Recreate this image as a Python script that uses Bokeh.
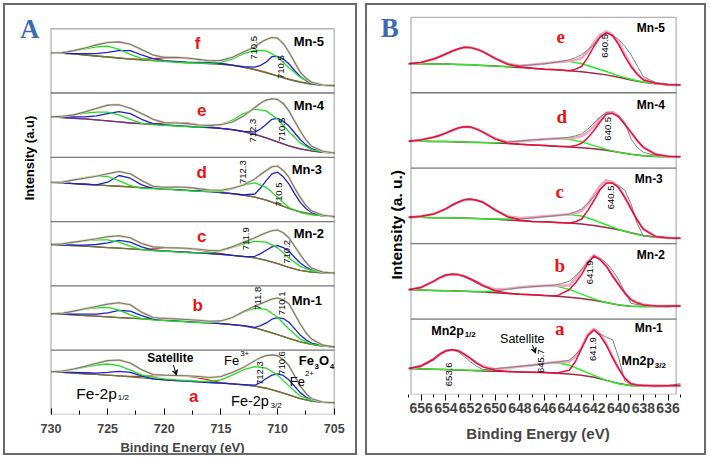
import math
from bokeh.plotting import figure
from bokeh.models import Range1d, FixedTicker, Label, Arrow, VeeHead, BoxAnnotation
from bokeh.layouts import row
from bokeh.embed import file_html
from bokeh.resources import INLINE

# ---------------- Panel A : Fe 2p ----------------
A_ev = [730, 729, 728, 727, 726, 725, 724, 723, 722, 721, 720, 719, 718,
        717, 716, 715, 714, 713, 712, 711, 710, 709, 708, 707, 706, 705]
# denser sampling (around the 710 eV peaks) for envelope and Fe2+ curves
A_ev_fine = [730, 729, 728, 727, 726, 725, 724, 723, 722, 721, 720, 719, 718,
             717, 716, 715, 714, 713, 712, 711.5, 711, 710.5, 710, 709.5, 709,
             708.5, 708, 707.5, 707, 706, 705]
A_samples = ["a", "b", "c", "d", "e", "f"]

A_f_bg = [119,118,116,113,110,107,104,101,98,96,94,92,90,89,87,85,82,76,69,60,50,40,32,26,23,22]
A_f_green = [119,120,125,131,137,139,130,115,102,96,94,92,90,89,88,91,101,117,127,125,107,75,47,30,24,22]
A_f_red = [119,118,116,113,110,107,104,101,100,102,104,105,103,99,94,89,83,77,70,61,51,41,33,27,23,22]
A_f_blue = [119,119,117,117,117,121,126,126,113,102,96,94,92,91,90,87,83,78,77,82,92,108,109,101,87,67,49,37,29,23,22]
A_f_env = [119,120,126,134,143,150,152,145,129,113,106,106,104,100,96,97,106,122,137,150,159,165,163,147,122,92,62,44,32,24,22]

A_e_bg = [120,118,116,114,111,108,105,102,100,98,96,94,92,90,88,86,82,76,68,58,46,34,25,19,15,13]
A_e_green = [120,122,126,131,134,134,126,113,101,97,95,93,91,90,92,98,110,130,143,138,113,76,43,23,16,13]
A_e_red = [120,118,116,114,111,108,105,102,100,99,102,104,102,97,91,86,82,76,68,58,46,34,25,19,15,13]
A_e_blue = [120,120,120,120,123,130,136,130,113,100,96,94,92,90,88,86,82,77,75,84,98,113,116,107,93,73,53,37,26,16,13]
A_e_env = [120,122,126,135,145,155,156,146,130,113,103,102,100,96,95,97,105,123,148,161,170,174,172,160,138,108,78,52,33,18,13]

A_d_bg = [117,115,113,111,109,107,105,103,101,99,97,95,93,91,89,86,83,79,73,64,52,39,29,22,17,15]
A_d_green = [117,119,125,131,136,134,122,107,99,98,96,94,92,90,89,89,97,109,115,102,72,42,27,20,17,15]
A_d_red = [117,115,113,111,109,107,105,103,101,100,102,103,101,97,91,86,83,79,73,64,52,39,29,22,17,15]
A_d_blue = [117,115,113,111,109,117,137,129,109,99,97,95,93,91,89,86,83,79,82,100,122,142,147,133,112,83,57,39,27,18,15]
A_d_env = [117,117,124,129,135,142,149,142,122,105,102,103,102,98,94,93,99,109,127,140,152,163,165,152,132,100,72,48,32,19,15]

A_c_bg = [123,121,120,118,116,114,112,110,108,106,104,102,100,98,96,94,91,88,83,76,66,55,46,41,39,38]
A_c_green = [123,125,129,134,137,137,130,118,108,105,103,101,99,98,99,104,114,125,132,130,113,83,58,45,40,38]
A_c_red = [123,121,120,118,116,114,112,110,108,110,112,113,111,107,101,96,91,88,83,76,66,55,46,41,39,38]
A_c_blue = [123,122,121,121,123,128,135,130,116,106,104,102,100,98,96,94,91,87,88,96,106,116,120,114,103,85,68,56,48,40,38]
A_c_env = [123,125,130,135,140,146,149,143,126,116,114,113,112,109,105,106,116,130,143,151,158,164,166,158,143,118,93,70,53,41,38]

A_b_bg = [108,107,105,103,101,99,97,95,93,91,89,87,85,83,81,79,76,72,66,57,46,35,25,17,12,10]
A_b_green = [108,111,116,122,126,127,119,105,94,90,88,86,84,82,82,86,97,113,125,121,98,63,33,18,12,10]
A_b_red = [108,107,105,103,101,99,97,95,94,94,95,94,91,87,82,79,76,72,66,57,46,35,25,17,12,10]
A_b_blue = [108,108,107,107,107,111,118,116,103,92,89,87,85,83,81,79,76,73,68,73,81,92,97,94,83,64,45,31,21,13,10]
A_b_env = [108,110,116,123,130,137,141,135,113,97,94,93,91,89,86,87,97,115,131,138,145,152,155,150,138,108,78,52,33,15,10]

A_a_bg = [127,125,123,121,119,117,115,112,109,106,103,101,99,97,95,93,91,88,84,78,69,58,47,40,36,35]
A_a_green = [127,129,134,141,147,150,145,132,118,110,106,103,101,99,98,103,117,133,142,138,117,85,55,42,37,35]
A_a_red = [127,125,123,121,119,117,115,113,113,115,116,116,114,109,102,95,91,88,84,78,69,58,47,40,36,35]
A_a_blue = [127,126,125,124,123,125,128,125,115,106,103,101,99,97,95,93,91,89,87,95,107,117,121,116,103,84,65,52,43,36,35]
A_a_env = [127,129,135,143,152,160,162,153,133,119,117,116,115,113,110,113,125,140,160,169,175,177,175,163,145,115,85,63,47,37,35]

A_ticks = [730, 725, 720, 715, 710, 705]
A_minor = [727.5, 722.5, 717.5, 712.5, 707.5]

# ---------------- Panel B : Mn 2p ----------------
B_ev = [657, 656, 655, 654, 653, 652, 651, 650, 649, 648, 647, 646,
        645, 644, 643, 642, 641, 640, 639, 638, 637, 636, 635]
# denser sampling around the two Mn 2p peaks (red fit, envelope, raw data)
B_ev_fine = [657, 656, 655, 654.5, 654, 653.5, 653, 652.5, 652, 651.5, 651, 650,
             649, 648, 647, 646, 645, 644, 643.5, 643, 642.5, 642, 641.5, 641,
             640.5, 640, 639.5, 639, 638.5, 638, 637, 636, 635]
B_samples = ["a", "b", "c", "d", "e"]

B_e_bg = [86,86,85,85,84,83,81,79,77,75,73,70,68,65,62,58,53,46,38,31,27,24,23]
B_e_green = [86,86,85,85,84,83,81,79,78,80,83,87,91,93,86,75,63,50,40,32,27,24,23]
B_e_red = [86,90,100,107,115,123,130,135,134,129,122,102,85,77,73,70,68,65,70,78,105,138,165,178,170,143,108,78,55,38,28,24,23]
B_e_env = [86,90,100,107,115,123,130,135,134,129,122,102,86,80,83,87,91,94,97,104,122,150,172,182,172,150,113,80,56,40,28,24,23]
B_e_raw = [86,90,100,108,116,124,131,135,134,129,122,100,83,80,83,86,91,98,104,113,127,143,168,178,170,158,138,113,80,48,30,25,23]

B_d_bg = [80,80,79,79,78,77,76,75,73,71,69,67,65,63,61,58,53,47,41,37,35,34,34]
B_d_green = [80,80,79,79,78,77,76,76,77,80,83,86,88,86,78,67,56,47,41,37,35,34,34]
B_d_red = [80,84,92,97,104,112,119,123,122,116,107,87,74,71,69,67,65,64,67,74,90,112,138,160,163,152,130,107,82,62,41,35,34]
B_d_env = [80,84,92,97,104,112,119,123,122,116,107,88,78,80,83,86,88,89,91,95,106,125,147,165,167,155,131,105,82,62,41,35,34]
B_d_raw = [80,84,92,98,105,113,120,123,122,116,107,86,77,81,84,86,88,92,96,102,116,134,152,165,163,156,135,87,62,47,38,36,34]

B_c_bg = [78,78,77,77,76,75,74,72,70,68,66,65,63,61,58,54,48,41,32,24,19,17,16]
B_c_green = [78,78,77,77,76,75,74,73,73,75,78,81,84,86,82,70,56,42,31,23,19,17,16]
B_c_red = [78,81,88,95,103,114,123,130,132,129,123,100,80,70,66,65,63,61,65,73,98,128,160,180,180,166,137,103,70,43,21,17,16]
B_c_env = [78,81,88,95,103,114,123,130,132,129,123,100,81,76,78,81,84,87,91,97,117,145,172,188,183,167,138,104,70,43,21,17,16]
B_c_raw = [78,80,88,96,104,115,124,131,133,129,122,98,78,73,76,80,83,88,95,103,120,140,163,178,178,173,158,118,60,23,20,18,16]

B_b_bg = [87,86,85,84,83,82,80,78,76,74,72,70,68,65,61,56,49,42,38,37,37,37,39]
B_b_green = [87,86,85,84,83,82,81,84,89,94,97,99,97,88,74,60,49,42,38,37,37,37,39]
B_b_red = [87,94,112,123,130,133,132,127,119,110,100,84,77,74,72,70,69,87,107,132,165,187,176,157,128,102,77,57,48,42,39,38,39]
B_b_env = [87,94,112,122,130,133,132,127,119,110,100,88,90,94,97,99,99,100,120,145,170,190,178,158,130,103,78,58,49,43,39,38,39]
B_b_raw = [87,94,112,124,132,134,132,125,117,107,97,84,88,93,96,99,102,112,128,147,170,187,180,167,145,117,80,47,43,41,40,41,40]

B_a_bg = [77,76,75,74,73,71,70,69,68,67,66,65,63,61,57,51,42,33,27,25,25,26,27]
B_a_green = [77,76,75,74,73,72,72,75,79,83,87,93,95,87,72,57,42,32,26,25,25,26,27]
B_a_red = [77,84,104,119,129,133,130,120,107,93,82,72,68,67,66,65,64,72,98,137,175,192,175,147,110,77,48,32,28,27,25,26,27]
B_a_env = [77,84,104,119,129,133,130,120,107,94,84,75,79,83,87,93,96,98,113,140,178,195,178,150,112,77,50,32,28,27,25,26,27]
B_a_raw = [77,87,107,122,132,133,127,113,97,84,74,77,80,84,87,92,96,102,118,137,172,190,180,170,163,110,40,29,28,27,28,27,32]

B_ticks = [656, 654, 652, 650, 648, 646, 644, 642, 640, 638, 636]
B_minor = [657, 655, 653, 651, 649, 647, 645, 643, 641, 639, 637, 635]

# ---------------- helpers ----------------
SANS = "Liberation Sans"
SERIF = "Liberation Serif"
A_BOX = 191
B_BOX = 224

# reference-pixel -> data mapping for each panel (layout only)
def ax_A(px):
    return 730 - (px - 50) / 11.2

def ay_A(py):
    return (410 - py) * 3

def ax_B(px):
    return 656 - (px - 420) / 12.2

def ay_B(py):
    return (390 - py) * 3

def lab(p, x, y, text, size, color="black", style="normal", font=SANS,
        angle=0.0, align="center", baseline="middle"):
    p.add_layout(Label(x=x, y=y, text=text, text_font_size=f"{size}px",
                       text_color=color, text_font_style=style, text_font=font,
                       angle=angle, text_align=align, text_baseline=baseline))

def base_fig(fw, fh, xr, yr, bb):
    p = figure(frame_width=fw, frame_height=fh, x_range=xr, y_range=yr,
               output_backend="svg", toolbar_location=None,
               min_border_left=0, min_border_right=0,
               min_border_top=0, min_border_bottom=bb)
    p.xgrid.visible = False
    p.ygrid.visible = False
    p.yaxis.visible = False
    p.outline_line_color = None
    p.background_fill_color = "white"
    p.border_fill_color = "white"
    p.styles = {"border": "2px solid #6a6a6a"}
    return p

def style_xaxis(a, ticks, minor, tin, tout, mtin, mtout, lsize, lstand, title, tsize, tstand):
    a.ticker = FixedTicker(ticks=ticks, minor_ticks=minor)
    a.major_tick_in = tin
    a.major_tick_out = tout
    a.minor_tick_in = mtin
    a.minor_tick_out = mtout
    a.major_tick_line_color = "black"
    a.minor_tick_line_color = "black"
    a.axis_line_color = None
    a.major_label_text_font = SANS
    a.major_label_text_font_style = "bold"
    a.major_label_text_font_size = lsize
    a.major_label_standoff = lstand
    a.axis_label = title
    a.axis_label_text_font = SANS
    a.axis_label_text_font_style = "bold"
    a.axis_label_text_font_size = tsize
    a.axis_label_standoff = tstand

# ---------------- Panel A figure ----------------
pA = base_fig(350, 405, Range1d(ax_A(5), ax_A(355)), Range1d(0, ay_A(5)), 43)
style_xaxis(pA.xaxis[0], A_ticks, A_minor, 6, 0, 4, 0, "12.5px", 9,
            "Binding Energy (eV)", "13px", 4)

A_data = {
    "a": (A_a_bg, A_a_red, A_a_blue, A_a_green, A_a_env),
    "b": (A_b_bg, A_b_red, A_b_blue, A_b_green, A_b_env),
    "c": (A_c_bg, A_c_red, A_c_blue, A_c_green, A_c_env),
    "d": (A_d_bg, A_d_red, A_d_blue, A_d_green, A_d_env),
    "e": (A_e_bg, A_e_red, A_e_blue, A_e_green, A_e_env),
    "f": (A_f_bg, A_f_red, A_f_blue, A_f_green, A_f_env),
}
for k, s in enumerate(A_samples):
    off = k * A_BOX
    bg, red, blue, green, env = A_data[s]
    sh = lambda arr: [v + off for v in arr]
    bgc = "#5b3f8f" if s == "e" else "#55803a"
    pA.line(A_ev, sh(red), line_color="#e8202a", line_width=1.3)
    pA.line(A_ev, sh(bg), line_color=bgc, line_width=1.3)
    pA.line(A_ev_fine, sh(blue), line_color="#1f1fcf", line_width=1.3)
    pA.line(A_ev, sh(green), line_color="#22dd22", line_width=1.3)
    pA.line(A_ev_fine, sh(env), line_color="#e2dbb8", line_width=2.4)
    pA.line(A_ev_fine, sh(env), line_color="#777777", line_width=1.1)
    pA.add_layout(BoxAnnotation(left=A_ev[-1], right=A_ev[0], bottom=off, top=off + A_BOX,
                                fill_alpha=0, line_color="black", line_width=1.3))

for t, x, y in [("f", 195, 43), ("e", 199, 108), ("d", 199, 170), ("c", 199, 234),
                ("b", 195, 302), ("a", 191, 392)]:
    lab(pA, ax_A(x), ay_A(y), t, 17, color="#ee1111", style="bold")
for t, x, y in [("Mn-5", 305, 41), ("Mn-4", 305, 104), ("Mn-3", 303, 167),
                ("Mn-2", 305, 231), ("Mn-1", 303, 297)]:
    lab(pA, ax_A(x), ay_A(y), t, 13, style="bold")
for t, x, y in [("710.5", 251, 47), ("710.5", 277, 66), ("712.3", 250, 129),
                ("710.5", 278, 128), ("712.3", 240, 170), ("710.5", 275, 192),
                ("711.9", 243, 236), ("710.2", 283, 249), ("711.8", 255, 295),
                ("710.1", 278, 300), ("712.3", 257, 369), ("710.6", 278, 359)]:
    lab(pA, ax_A(x), ay_A(y), t, 9.5, angle=math.pi / 2)
lab(pA, ax_A(168), ay_A(354), "Satellite", 12, style="bold")
pA.add_layout(Arrow(end=VeeHead(size=5, line_width=1), x_start=ax_A(171), y_start=ay_A(361),
                    x_end=ax_A(174), y_end=ay_A(371), line_width=1))
lab(pA, ax_A(221), ay_A(357), "Fe", 13, align="left")
lab(pA, ax_A(237), ay_A(350), "3+", 8, align="left")
lab(pA, ax_A(295), ay_A(357), "Fe", 13, style="bold", align="left")
lab(pA, ax_A(310.5), ay_A(362), "3", 8, style="bold", align="left")
lab(pA, ax_A(315), ay_A(357), "O", 13, style="bold", align="left")
lab(pA, ax_A(325.5), ay_A(362), "4", 8, style="bold", align="left")
lab(pA, ax_A(286), ay_A(377), "Fe", 13, align="left")
lab(pA, ax_A(301), ay_A(369), "2+", 8, align="left")
lab(pA, ax_A(75), ay_A(389), "Fe-2p", 15.5, align="left")
lab(pA, ax_A(116), ay_A(393), "1/2", 8, align="left")
lab(pA, ax_A(228), ay_A(397), "Fe-2p", 14.5, align="left")
lab(pA, ax_A(267), ay_A(401), "3/2", 8, align="left")
lab(pA, ax_A(29), ay_A(156), "Intensity (a.u)", 13, style="bold", angle=math.pi / 2)
lab(pA, ax_A(29), ay_A(28), "A", 27, color="#3b6cb3", style="bold", font=SERIF)

# ---------------- Panel B figure ----------------
pB = base_fig(337, 385, Range1d(ax_B(367), ax_B(704)), Range1d(0, ay_B(5)), 63)
style_xaxis(pB.xaxis[0], B_ticks, B_minor, 0, 6, 0, 3, "14px", 2,
            "Binding Energy (eV)", "15px", 9)

B_data = {
    "a": (B_a_bg, B_a_green, B_a_env, B_a_raw, B_a_red),
    "b": (B_b_bg, B_b_green, B_b_env, B_b_raw, B_b_red),
    "c": (B_c_bg, B_c_green, B_c_env, B_c_raw, B_c_red),
    "d": (B_d_bg, B_d_green, B_d_env, B_d_raw, B_d_red),
    "e": (B_e_bg, B_e_green, B_e_env, B_e_raw, B_e_red),
}
B_left, B_right = ax_B(410), ax_B(672)
for k, s in enumerate(B_samples):
    off = k * B_BOX
    bg, green, env, raw, red = B_data[s]
    sh = lambda arr: [v + off for v in arr]
    pB.line(B_ev, sh(bg), line_color="#a0284a", line_width=1.5)
    pB.line(B_ev, sh(green), line_color="#22ee22", line_width=1.4)
    pB.line(B_ev_fine, sh(env), line_color="#f2a6c0", line_width=2.6)
    pB.line(B_ev_fine, sh(raw), line_color="#808080", line_width=1.0)
    pB.line(B_ev_fine, sh(red), line_color="#e8103c", line_width=1.5)
    pB.add_layout(BoxAnnotation(left=B_right, right=B_left, bottom=off, top=off + B_BOX,
                                fill_alpha=0, line_color="black", line_width=1.3))

for t, x, y in [("e", 558, 36), ("d", 559, 115), ("c", 557, 189), ("b", 557, 262), ("a", 557, 325)]:
    lab(pB, ax_B(x), ay_B(y), t, 19, color="#ee1111", style="bold", font=SERIF)
for t, x, y in [("Mn-5", 647, 27), ("Mn-4", 647, 103), ("Mn-3", 645, 177),
                ("Mn-2", 647, 252), ("Mn-1", 645, 324)]:
    lab(pB, ax_B(x), ay_B(y), t, 12, style="bold")
for t, x, y in [("640.5", 602, 45), ("640.5", 605, 127), ("640.5", 608, 195),
                ("641.9", 587, 269), ("645.7", 538, 357), ("653.6", 448, 370),
                ("641.9", 590, 345)]:
    lab(pB, ax_B(x), ay_B(y), t, 9.5, angle=math.pi / 2)
lab(pB, ax_B(430), ay_B(327), "Mn2p", 12.5, style="bold", align="left")
lab(pB, ax_B(463), ay_B(331), "1/2", 8, style="bold", align="left")
lab(pB, ax_B(618), ay_B(357), "Mn2p", 12.5, style="bold", align="left")
lab(pB, ax_B(651), ay_B(361), "3/2", 8, style="bold", align="left")
lab(pB, ax_B(520), ay_B(335), "Satellite", 12.5)
pB.add_layout(Arrow(end=VeeHead(size=5, line_width=1), x_start=ax_B(530), y_start=ay_B(341),
                    x_end=ax_B(533), y_end=ay_B(349), line_width=1))
lab(pB, ax_B(396), ay_B(222), "Intensity (a. u.)", 15.5, style="bold", angle=math.pi / 2)
lab(pB, ax_B(389), ay_B(27), "B", 27, color="#3b6cb3", style="bold", font=SERIF)

layout = row(pA, pB, spacing=8)
layout.margin = (3, 0, 0, 3)
open("out.html", "w").write(file_html(layout, INLINE))
